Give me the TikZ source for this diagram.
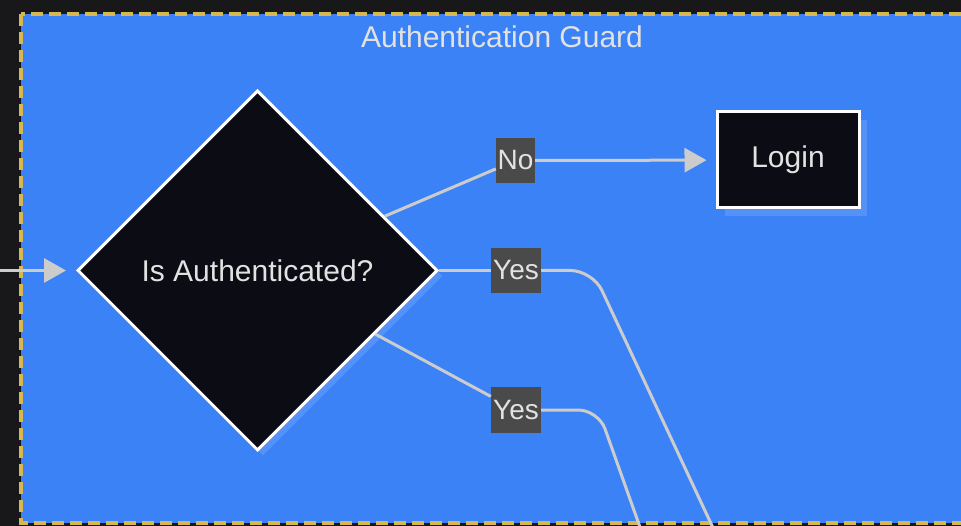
\documentclass[tikz,border=0pt]{standalone}
\usepackage{fontspec}
\setmainfont{Liberation Sans}
\usetikzlibrary{shapes.geometric,arrows.meta}
\definecolor{bgdark}{HTML}{18181B}
\definecolor{panel}{HTML}{3B82F6}
\definecolor{panelshadow}{HTML}{5592F7}
\definecolor{guardline}{HTML}{D6B850}
\definecolor{nodefill}{HTML}{0B0C14}
\definecolor{edgegray}{HTML}{CCCCCC}
\definecolor{labelbg}{HTML}{4A4A4A}
\definecolor{textlight}{HTML}{E2E2E2}
\begin{document}
\begin{tikzpicture}[x=1pt,y=-1pt,
  edge/.style={draw=edgegray, line width=3pt},
  tipd/.style={-{Triangle[length=22pt,width=24pt]}},
  bigtext/.style={font=\fontsize{30}{34}\selectfont},
  decision/.style={diamond, draw=white, line width=3pt, fill=nodefill,
    minimum width=360pt, minimum height=360pt, inner sep=0pt, text=textlight, bigtext},
  process/.style={rectangle, draw=white, line width=3pt, fill=nodefill,
    minimum width=142pt, minimum height=96pt, inner sep=0pt, text=textlight, bigtext},
  edgelabel/.style={rectangle, fill=labelbg, inner sep=0pt, minimum height=45pt,
    text=textlight, font=\fontsize{28}{32}\selectfont},
  shadowfill/.style={draw=none, fill=panelshadow, text opacity=0}
]
\useasboundingbox (0,0) rectangle (961,526);
\fill[bgdark] (0,0) rectangle (961,526);
\clip (0,0) rectangle (961,526);
% group frame
\fill[panel] (21,14) rectangle (990,523);
\draw[guardline, line width=3.5pt, dash pattern=on 12pt off 6pt] (21,14) rectangle (990,523);
\node[text=textlight, bigtext] (title) at (502,37) {Authentication Guard};
% shadows
\node[decision, shadowfill] (diashadow) at (263,276) {};
\node[process, shadowfill] (loginshadow) at (796,168) {};
% nodes
\node[decision] (dia) at (257.5,270.5) {Is Authenticated?};
\node[process] (login) at (788,160) {Login};
% free ends
\coordinate (entry) at (0,270.5);
\coordinate (bendA) at (592.6,270.5);
\coordinate (exitA) at (714,530);
\coordinate (bendB) at (598.3,410);
\coordinate (exitB) at (641,530);
% edges
\draw[edge, tipd, shorten >=10pt] (entry) -- (dia.west);
% labels
\node[edgelabel, minimum width=39pt] (no) at (515.5,160.5) {No};
\node[edgelabel, minimum width=50pt] (yesA) at (516,270.5) {Yes};
\node[edgelabel, minimum width=50pt] (yesB) at (516,410) {Yes};
\draw[edge] (dia) -- (no);
\draw[edge, tipd, shorten >=9pt] (no) -- (login);
\draw[edge] (dia.east) -- (yesA.west);
\draw[edge, rounded corners=22pt] (yesA.east) -- (bendA) -- (exitA);
\draw[edge] (dia) -- (yesB);
\draw[edge, rounded corners=20pt] (yesB.east) -- (bendB) -- (exitB);
\end{tikzpicture}
\end{document}
